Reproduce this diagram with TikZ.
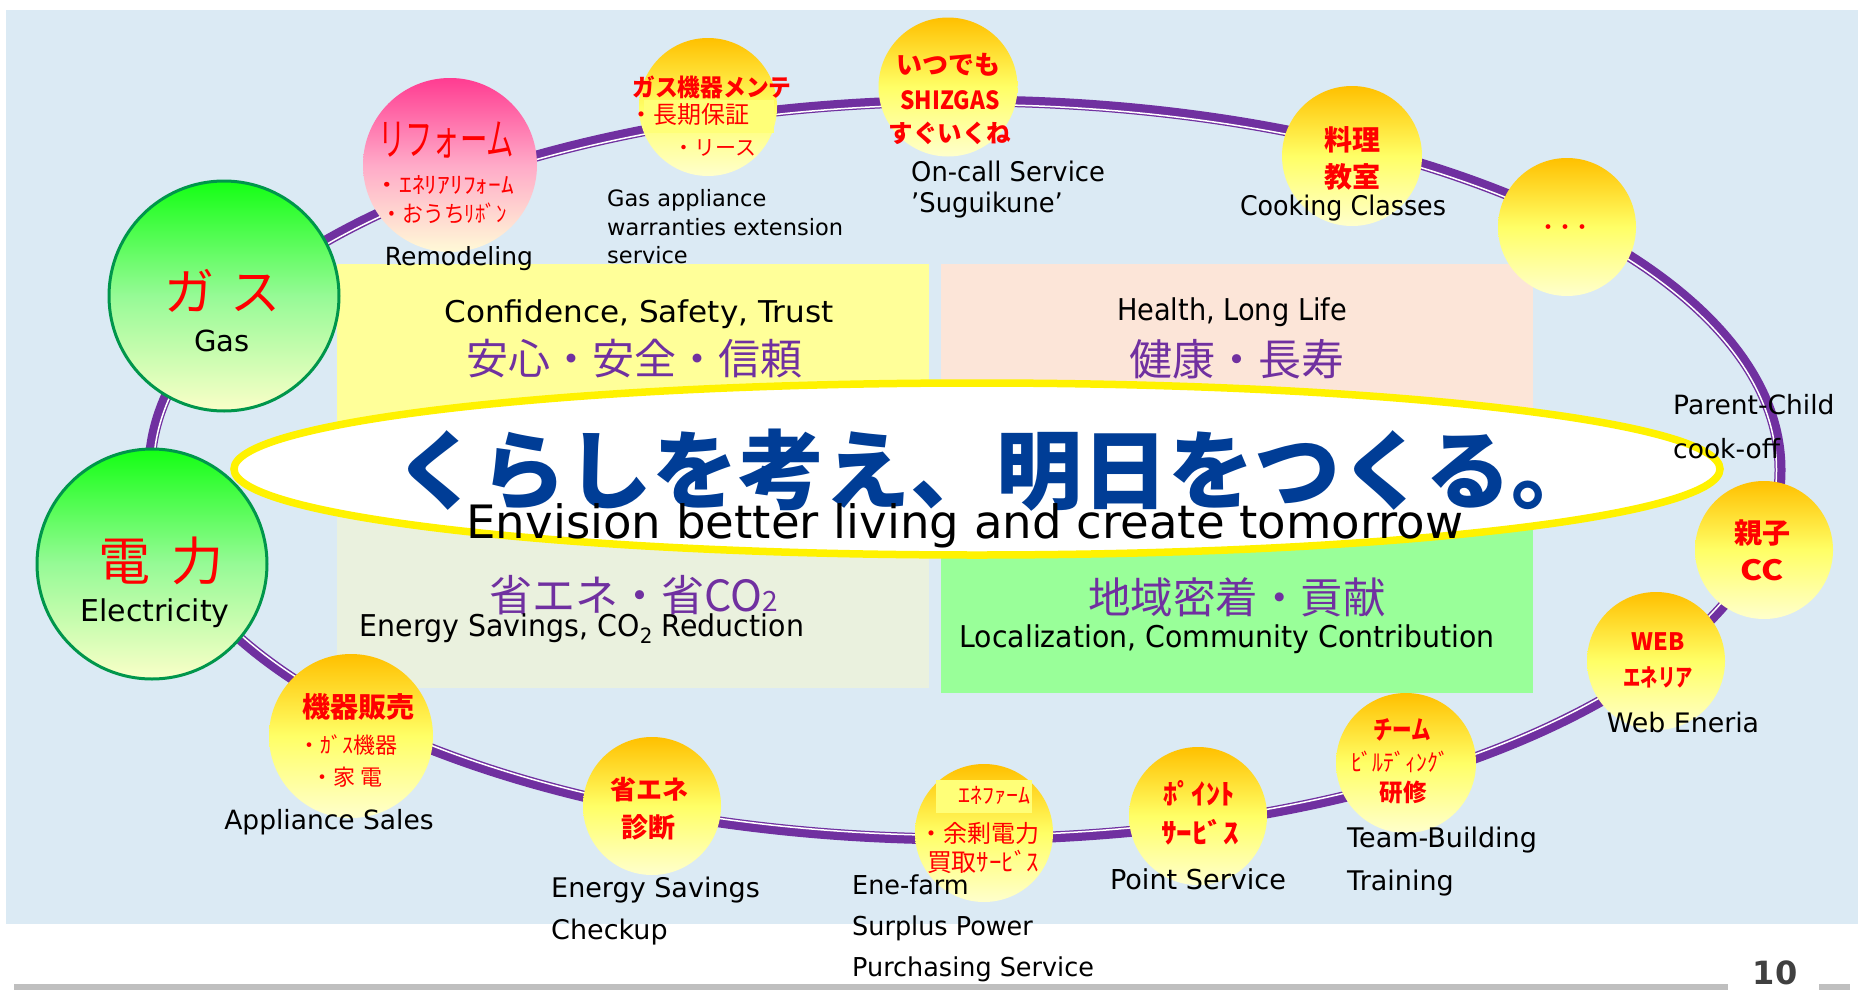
\documentclass[tikz,border=0pt]{standalone}
\usepackage{fontspec}
\setmainfont{DejaVu Sans}
\newfontfamily\cjk{Noto Sans CJK JP}
\usepackage{graphicx}
\definecolor{bgblue}{RGB}{219,234,244}
\definecolor{ringpurple}{RGB}{112,48,160}
\definecolor{jpurple}{RGB}{112,48,160}
\definecolor{jred}{RGB}{255,0,0}
\definecolor{qyellow}{RGB}{255,255,153}
\definecolor{qpeach}{RGB}{252,229,216}
\definecolor{qbeige}{RGB}{234,241,222}
\definecolor{qgreen}{RGB}{153,255,153}
\definecolor{sloganblue}{RGB}{0,61,150}
\definecolor{lgray}{RGB}{191,191,191}
\definecolor{dgray}{RGB}{64,64,64}
\definecolor{yA}{RGB}{255,192,0}
\definecolor{yB}{RGB}{255,255,102}
\definecolor{yC}{RGB}{255,255,204}
\definecolor{gA}{RGB}{20,255,20}
\definecolor{gB}{RGB}{150,250,150}
\definecolor{gC}{RGB}{250,255,200}
\definecolor{gEdge}{RGB}{0,150,75}
\definecolor{pA}{RGB}{255,60,145}
\definecolor{pB}{RGB}{255,170,200}
\definecolor{pC}{RGB}{255,250,215}
\definecolor{ovl}{RGB}{255,255,120}
\newcommand\fsz[1]{\fontsize{#1}{#1}\selectfont}
\newcommand\fszl[2]{\fontsize{#1}{#2}\selectfont}
\newcommand\twd[3]{\resizebox{#1pt}{\height}{\fsz{#2}#3}}
\newcommand\sxx[2]{\scalebox{#1}[1]{#2}}
\tikzset{
 ycirc/.style={circle, inner sep=0pt, minimum size=138pt, top color=yA, bottom color=yC, middle color=yB, draw=none},
 gcirc/.style={circle, inner sep=0pt, minimum size=230pt, top color=gA, bottom color=gC, middle color=gB, draw=gEdge, line width=3pt},
 pcirc/.style={circle, inner sep=0pt, minimum size=174pt, top color=pA, bottom color=pC, middle color=pB},
 lbl/.style={inner sep=0pt, text=black},
 jp/.style={inner sep=0pt, text=jred, font=\cjk},
 jpb/.style={inner sep=0pt, text=jred, font=\cjk\bfseries},
 jpq/.style={inner sep=0pt, text=jpurple, font=\cjk},
}
\begin{document}
\begin{tikzpicture}[x=1pt,y=-1pt]
\useasboundingbox (0,0) rectangle (1865,993);
\fill[white] (0,0) rectangle (1865,993);
\fill[bgblue] (6,10) rectangle (1858,924);
\fill[lgray] (14,984) rectangle (1728,990);
\fill[lgray] (1819,984) rectangle (1850,990);
\node[lbl, text=dgray, font=\bfseries\fsz{32}] (pagenum) at (1775,973) {10};

% quadrants
\fill[qyellow] (337,264) rectangle (929,470);
\fill[qpeach] (941,264) rectangle (1533,470);
\fill[qbeige] (337,470) rectangle (929,688);
\fill[qgreen] (941,470) rectangle (1533,693);

% ring
\draw[ringpurple, line width=11pt] (965,470) ellipse [x radius=815pt, y radius=369pt];
\draw[white, line width=1.5pt] (965,470) ellipse [x radius=811.5pt, y radius=365.5pt];

% slogan ellipse
\draw[yellow, line width=7.5pt, fill=white] (977,469) ellipse [x radius=743pt, y radius=86pt];
\node[inner sep=0pt, text=sloganblue, font=\cjk\bfseries\fsz{86}] (slogan) at (996,470) {くらしを考え、明日をつくる。};
\node[lbl] (sloganE) at (965,526) {\twd{997}{46}{Envision better living and create tomorrow}};

% quadrant texts
\node[lbl] (q1E) at (639,314) {\twd{389}{30}{Confidence, Safety, Trust}};
\node[jpq, font=\cjk\fsz{42}] (q1J) at (634,359) {安心・安全・信頼};
\node[lbl] (q2E) at (1232,312) {\twd{230}{30}{Health, Long Life}};
\node[jpq, font=\cjk\fsz{43}] (q2J) at (1237,359) {健康・長寿};
\node[jpq, font=\cjk\fsz{43}] (q3J) at (634,595) {省エネ・省CO{\fsz{28}2}};
\node[lbl] (q3E) at (582,629) {\twd{444}{30}{Energy Savings, CO\textsubscript{2} Reduction}};
\node[jpq, font=\cjk\fsz{42.5}] (q4J) at (1237,597) {地域密着・貢献};
\node[lbl] (q4E) at (1227,639) {\twd{535}{30}{Localization, Community Contribution}};

% green circles
\node[gcirc] (gas) at (224,296) {};
\node[jp, font=\cjk\fsz{50}] (gasJ) at (222,291) {ガ\kern16ptス};
\node[lbl, font=\fsz{29}] (gasE) at (222,341) {Gas};
\node[gcirc] (elec) at (152,564) {};
\node[jp, font=\cjk\fsz{52}] (elecJ) at (161,561) {電\kern22pt力};
\node[lbl, font=\fsz{30}] (elecE) at (155,613) {Electricity};

% remodeling
\node[pcirc] (remo) at (450,165) {};
\node[jp] (remoJ1) at (446,140) {\twd{136}{44}{リフォーム}};
\node[jp] (remoJ2) at (444,185) {\twd{140}{23}{・ｴﾈﾘｱﾘﾌｫｰﾑ}};
\node[jp] (remoJ3) at (444,213) {\twd{125}{23}{・おうちﾘﾎﾞﾝ}};

% gas appliance maintenance
\node[ycirc] (gasm) at (708,107) {};
\node[jpb] (gasmJ1) at (712,87) {\twd{159}{24}{ガス機器メンテ}};
\fill[ovl] (644,100) rectangle (774,133);
\node[jp, font=\cjk\fsz{24}] (gasmJ2) at (689,114) {・長期保証};
\node[jp, font=\cjk\fsz{21}] (gasmJ3) at (715,148) {・リース};

% on-call
\node[ycirc, minimum size=139pt] (oncall) at (948,87) {};
\node[jpb, font=\cjk\bfseries\fsz{26}] (oncallJ1) at (948,65) {いつでも};
\node[jpb] (oncallJ2) at (950,100) {\twd{99}{25}{SHIZGAS}};
\node[jpb, font=\cjk\bfseries\fsz{24.5}] (oncallJ3) at (950,133) {すぐいくね};

% cooking
\node[ycirc, minimum size=140pt] (cook) at (1352,156) {};
\node[jpb, font=\cjk\bfseries\fsz{28}] (cookJ1) at (1352,140) {料理};
\node[jpb, font=\cjk\bfseries\fsz{28}] (cookJ2) at (1352,177) {教室};

% dots
\node[ycirc] (dots) at (1567,227) {};
\node[jpb, font=\cjk\bfseries\fsz{17}] (dotsJ) at (1565,229) {・・・};

% oyako
\node[ycirc] (oyako) at (1764,550) {};
\node[jpb, font=\cjk\bfseries\fsz{28}] (oyakoJ1) at (1762,533) {親子};
\node[jpb] (oyakoJ2) at (1762,570) {\twd{43}{28}{CC}};

% web
\node[ycirc] (web) at (1656,661) {};
\node[jpb] (webJ1) at (1658,642) {\twd{53}{24}{WEB}};
\node[jpb] (webJ2) at (1658,677) {\twd{69}{24}{エネリア}};

% team
\node[ycirc, minimum size=140pt] (team) at (1406,763) {};
\node[jpb] (teamJ1) at (1402,730) {\twd{58}{26}{チーム}};
\node[jp] (teamJ2) at (1400,762) {\twd{98}{24}{ﾋﾞﾙﾃﾞｨﾝｸﾞ}};
\node[jpb] (teamJ3) at (1403,792) {\twd{47}{24}{研修}};

% point
\node[ycirc] (point) at (1198,816) {};
\node[jpb] (pointJ1) at (1199,793) {\twd{71}{28}{ﾎﾟｲﾝﾄ}};
\node[jpb] (pointJ2) at (1200,832) {\twd{78}{28}{ｻｰﾋﾞｽ}};

% enefarm
\node[ycirc] (enef) at (984,833) {};
\fill[ovl] (936,780) rectangle (1032,813);
\node[jp] (enefJ1) at (994,795) {\twd{72}{22}{ｴﾈﾌｧｰﾑ}};
\node[jp, font=\cjk\fsz{24}] (enefJ2) at (979,833) {・余剰電力};
\node[jp] (enefJ3) at (983,862) {\twd{112}{25}{買取ｻｰﾋﾞｽ}};

% shoene
\node[ycirc] (shoene) at (652,806) {};
\node[jpb, font=\cjk\bfseries\fsz{26}] (shoeneJ1) at (649,790) {省エネ};
\node[jpb, font=\cjk\bfseries\fsz{27}] (shoeneJ2) at (648,827) {診断};

% kiki
\node[ycirc, minimum size=164pt] (kiki) at (351,736) {};
\node[jpb, font=\cjk\bfseries\fsz{28}] (kikiJ1) at (358,707) {機器販売};
\node[jp, font=\cjk\fsz{22}] (kikiJ2) at (348,745) {・ｶﾞｽ機器};
\node[jp, font=\cjk\fsz{22}] (kikiJ3) at (347,777) {・家\kern6pt 電};

% English labels
\node[lbl, font=\fsz{25}] (remoE) at (459,259) {Remodeling};
\node[lbl, anchor=west, align=left, font=\fszl{22.5}{28.5}] (gasmE) at (607,227) {Gas appliance\\warranties extension\\service};
\node[lbl, anchor=west, align=left, font=\fszl{27}{31}] (oncallE) at (911,190) {\sxx{0.955}{On-call Service}\\\sxx{0.955}{’Suguikune’}};
\node[lbl] (cookE) at (1343,208) {\twd{206}{27}{Cooking Classes}};
\node[lbl, anchor=west, align=left, font=\fszl{26.5}{44}] (oyakoE) at (1673,427) {Parent-Child\\cook-off};
\node[lbl, font=\fsz{26.8}] (webE) at (1683,722) {Web Eneria};
\node[lbl, anchor=west, align=left, font=\fszl{27}{43}] (teamE) at (1347,862) {Team-Building\\Training};
\node[lbl] (pointE) at (1198,879) {\twd{176}{27.4}{Point Service}};
\node[lbl, anchor=west, align=left, font=\fszl{26}{41}] (enefE) at (852,928) {\sxx{0.98}{Ene-farm}\\\sxx{0.98}{Surplus Power}\\\sxx{0.98}{Purchasing Service}};
\node[lbl, anchor=west, align=left, font=\fszl{27}{42}] (shoeneE) at (551,911) {Energy Savings\\Checkup};
\node[lbl, font=\fsz{26.5}] (kikiE) at (329,822) {Appliance Sales};
\end{tikzpicture}
\end{document}
